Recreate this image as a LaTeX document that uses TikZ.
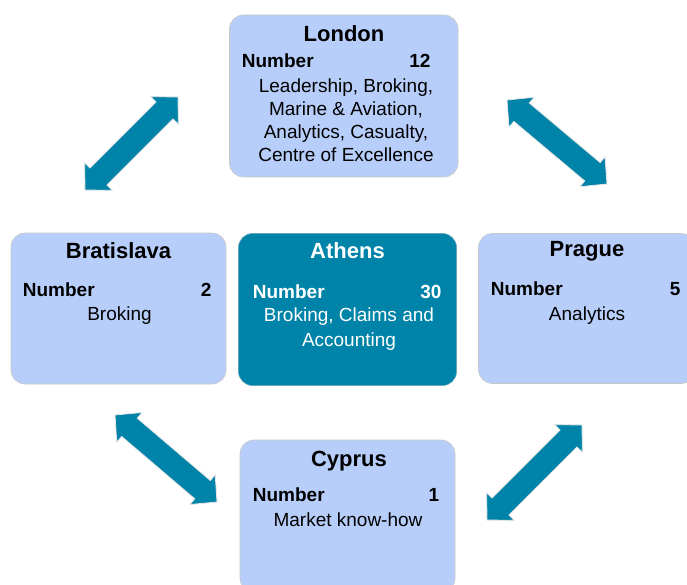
\documentclass[tikz,border=0pt]{standalone}
\usepackage{fontspec}
\setmainfont{Liberation Sans}
\usetikzlibrary{calc}

\definecolor{boxblue}{RGB}{183,206,250}
\definecolor{hubteal}{RGB}{0,131,168}

% double-headed block arrow between two named tip coordinates
\newcommand\linkarrow[2]{%
  \coordinate (#1-h) at ($(#1)!19pt!(#2)$);
  \coordinate (#2-h) at ($(#2)!19pt!(#1)$);
  \filldraw[link] (#1)
    -- ($(#1-h)!19.5pt!90:(#2)$)
    -- ($(#1-h)!12pt!90:(#2)$)
    -- ($(#2-h)!12pt!-90:(#1)$)
    -- ($(#2-h)!19.5pt!-90:(#1)$)
    -- (#2)
    -- ($(#2-h)!19.5pt!90:(#1)$)
    -- ($(#2-h)!12pt!90:(#1)$)
    -- ($(#1-h)!12pt!-90:(#2)$)
    -- ($(#1-h)!19.5pt!-90:(#2)$)
    -- cycle;}

\begin{document}
\begin{tikzpicture}[x=1pt,y=-1pt,
  office/.style={draw=black!22, line width=0.6pt, fill=boxblue, rounded corners=14pt, inner sep=0},
  hub/.style={office, fill=hubteal, draw=hubteal!80!black!60},
  city/.style={font=\fontsize{22}{25}\selectfont\bfseries, anchor=base, inner sep=0},
  numlabel/.style={font=\fontsize{19}{22}\selectfont\bfseries, anchor=base west, inner sep=0},
  numvalue/.style={font=\fontsize{19}{22}\selectfont\bfseries, anchor=base east, inner sep=0},
  duties/.style={font=\fontsize{19}{22}\selectfont, anchor=base, inner sep=0},
  link/.style={fill=hubteal, draw=black!10, line width=0.8pt, line join=miter}
]
\useasboundingbox (0,0) rectangle (687,585);
\clip (0,0) rectangle (687,585);

% office boxes
\node[office, minimum width=228.5pt, minimum height=162pt] (london) at (343.75,96) {};
\node[office, minimum width=215pt, minimum height=151pt] (bratislava) at (118.5,308.5) {};
\node[hub, minimum width=218pt, minimum height=152pt] (athens) at (347.5,309.5) {};
\node[office, minimum width=216.5pt, minimum height=150pt] (prague) at (586.75,308.5) {};
\node[office, minimum width=215pt, minimum height=152pt] (cyprus) at (347.5,516) {};

% London
\node[city] (london-t) at (344,41.7) {London};
\node[numlabel] (london-n) at (241.7,67.3) {Number};
\node[numvalue] (london-v) at (430.7,67.3) {12};
\node[duties] (london-d1) at (346,92.7) {Leadership, Broking,};
\node[duties] (london-d2) at (346,115.3) {Marine \& Aviation,};
\node[duties] (london-d3) at (346,138.3) {Analytics, Casualty,};
\node[duties] (london-d4) at (346,161.5) {Centre of Excellence};

% Bratislava
\node[city] (brat-t) at (118.5,258.3) {Bratislava};
\node[numlabel] (brat-n) at (22.7,296) {Number};
\node[numvalue] (brat-v) at (211.7,296) {2};
\node[duties] (brat-d1) at (119.5,320) {Broking};

% Athens
\begin{scope}[every node/.append style={text=white}]
\node[city] (athens-t) at (347.5,258.3) {Athens};
\node[numlabel] (athens-n) at (252.7,298.3) {Number};
\node[numvalue] (athens-v) at (441.7,298.3) {30};
\node[duties] (athens-d1) at (349,321.7) {Broking, Claims and};
\node[duties] (athens-d2) at (349,346.7) {Accounting};
\end{scope}

% Prague
\node[city] (prague-t) at (587,256.7) {Prague};
\node[numlabel] (prague-n) at (490.7,295) {Number};
\node[numvalue] (prague-v) at (680.7,295) {5};
\node[duties] (prague-d1) at (587,320) {Analytics};

% Cyprus
\node[city] (cyprus-t) at (349,466.7) {Cyprus};
\node[numlabel] (cyprus-n) at (252.7,501.7) {Number};
\node[numvalue] (cyprus-v) at (439.3,501.7) {1};
\node[duties] (cyprus-d1) at (348,526.7) {Market know-how};

% arrow tips
\coordinate (lb-a) at (85,190);
\coordinate (lb-b) at (178,97);
\coordinate (lp-a) at (507,100);
\coordinate (lp-b) at (607,184);
\coordinate (bc-a) at (115,415);
\coordinate (bc-b) at (217,502);
\coordinate (pc-a) at (582,425);
\coordinate (pc-b) at (487,520);

\linkarrow{lb-a}{lb-b}
\linkarrow{lp-a}{lp-b}
\linkarrow{bc-a}{bc-b}
\linkarrow{pc-a}{pc-b}
\end{tikzpicture}
\end{document}
